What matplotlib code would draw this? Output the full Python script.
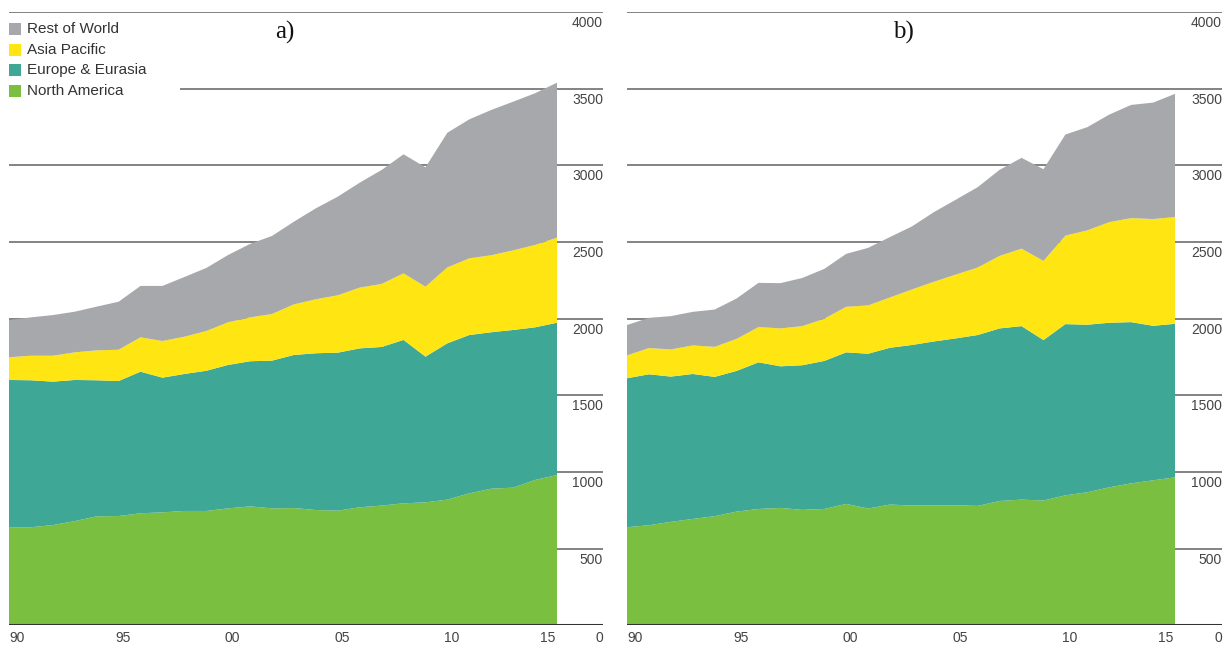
import matplotlib
matplotlib.use('Agg')
import matplotlib.pyplot as plt
from matplotlib.patches import Rectangle
import numpy as np

years = np.arange(1990, 2016)
regions = ['North America', 'Europe & Eurasia', 'Asia Pacific', 'Rest of World']
colors = ['#7bbf40', '#3fa796', '#ffe512', '#a7a8ab']

# panel a)
na_a = [637, 640, 654, 680, 711, 713, 731, 737, 746, 746, 763, 776, 763, 765, 752, 748, 770, 781, 796, 802,
        820, 861, 891, 898, 948, 980]
eu_a = [963, 958, 935, 920, 887, 880, 923, 878, 893, 914, 935, 946, 963, 998, 1022, 1030, 1036, 1034, 1065, 950,
        1019, 1032, 1020, 1028, 995, 993]
ap_a = [148, 160, 169, 180, 195, 204, 224, 239, 243, 259, 278, 286, 304, 330, 352, 374, 396, 411, 434, 456,
        495, 500, 502, 519, 537, 555]
rw_a = [243, 250, 265, 265, 285, 313, 335, 359, 389, 411, 439, 479, 509, 539, 593, 643, 684, 743, 776, 778,
        878, 906, 947, 969, 989, 1010]

# panel b)
na_b = [640, 653, 675, 694, 712, 742, 759, 766, 753, 759, 792, 762, 788, 781, 783, 783, 779, 811, 820, 814,
        848, 868, 900, 926, 946, 965]
eu_b = [971, 984, 947, 945, 908, 917, 956, 923, 943, 965, 988, 1009, 1022, 1047, 1068, 1088, 1114, 1125, 1131,
        1046, 1116, 1092, 1073, 1051, 1007, 1001]
ap_b = [149, 171, 177, 186, 196, 209, 230, 247, 255, 275, 297, 315, 328, 362, 389, 416, 440, 473, 505, 516,
        577, 615, 656, 678, 696, 696]
rw_b = [198, 197, 217, 219, 243, 263, 288, 295, 314, 325, 345, 375, 394, 411, 454, 488, 524, 561, 592, 598,
        659, 673, 701, 738, 759, 803]

x_ticks = [1990, 1995, 2000, 2005, 2010, 2015]
x_labels = ['90', '95', '00', '05', '10', '15']
y_ticks = [0, 500, 1000, 1500, 2000, 2500, 3000, 3500, 4000]

W, H = 1231, 646
plt.rcParams['font.family'] = ['Liberation Sans', 'DejaVu Sans']
fig = plt.figure(figsize=(W / 100, H / 100), dpi=100)


def make_axes(left_px, right_px):
    bottom_px, top_px = 625.4, 11.8
    return fig.add_axes([left_px / W, (H - bottom_px) / H, (right_px - left_px) / W, (bottom_px - top_px) / H])


def draw_panel(ax, series, title, title_x):
    px_per_year = 21.92
    width_px = ax.get_position().width * W
    ax.set_xlim(1990, 1990 + width_px / px_per_year)
    ax.set_ylim(0, 4000)
    for v in y_ticks[1:]:
        ax.axhline(v, color='#6e6e6e', lw=1.2, zorder=1)
    ax.axhline(0, color='#333333', lw=2.2, zorder=4)
    ax.stackplot(years, *series, colors=colors, zorder=2, lw=0)
    for s in ax.spines.values():
        s.set_visible(False)
    ax.set_xticks([])
    ax.set_yticks([])
    for v in y_ticks:
        ax.annotate(str(v), xy=(1, v), xycoords=('axes fraction', 'data'), xytext=(0, -3 if v else -4),
                    textcoords='offset points', ha='right', va='top', fontsize=10, color='#444444')
    for i, (yr, lab) in enumerate(zip(x_ticks, x_labels)):
        ha = 'left' if i == 0 else ('right' if i == len(x_ticks) - 1 else 'center')
        dx = 0 if i == 0 else (-1 if i == len(x_ticks) - 1 else 3)
        ax.annotate(lab, xy=(yr, 0), xycoords='data', xytext=(dx, -4), textcoords='offset points',
                    ha=ha, va='top', fontsize=10, color='#444444')
    fig.text(title_x / W, 1 - 32 / H, title, ha='center', va='center', fontsize=18,
             family='Liberation Serif', color='#111111')


ax_a = make_axes(9, 603)
draw_panel(ax_a, [na_a, eu_a, ap_a, rw_a], 'a)', 285)
ax_b = make_axes(627, 1222)
draw_panel(ax_b, [na_b, eu_b, ap_b, rw_b], 'b)', 903)

# legend (white box hides the grid line behind it)
def fig_px(x, y):
    return x / W, 1 - y / H

lx, ly = fig_px(9, 100)
lx2, ly2 = fig_px(180, 16)
fig.patches.append(Rectangle((lx, ly), lx2 - lx, ly2 - ly, transform=fig.transFigure,
                             facecolor='white', edgecolor='none', zorder=5))
row_y = [29, 49.5, 70, 91]
for name, c, yy in zip(regions[::-1], colors[::-1], row_y):
    sx, sy = fig_px(9, yy + 6)
    fig.patches.append(Rectangle((sx, sy), 12 / W, 12 / H, transform=fig.transFigure,
                                 facecolor=c, edgecolor='none', zorder=6))
    tx, ty = fig_px(27, yy)
    fig.text(tx, ty, name, ha='left', va='center', fontsize=11, color='#333333', zorder=6)

plt.savefig('out.png', dpi=100)
